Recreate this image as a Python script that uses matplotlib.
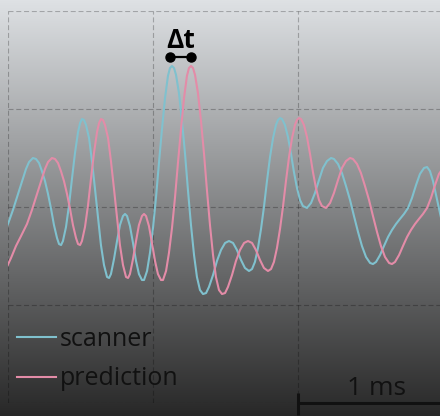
import numpy as np
import matplotlib
matplotlib.use('Agg')
import matplotlib.pyplot as plt

# scanner signal (time in ms, amplitude in grid units)
scanner_t = [-0.152, -0.110, -0.076, -0.041, 0.000, 0.034, 0.069, 0.097, 0.124, 0.145,
             0.172, 0.193, 0.214, 0.234, 0.255, 0.276, 0.297, 0.317, 0.338, 0.352,
             0.366, 0.379, 0.400, 0.421, 0.441, 0.462, 0.483, 0.497, 0.510, 0.524,
             0.538, 0.559, 0.579, 0.600, 0.621, 0.641, 0.662, 0.683, 0.697, 0.710,
             0.731, 0.752, 0.772, 0.793, 0.807, 0.821, 0.841, 0.862, 0.883, 0.903,
             0.924, 0.938, 0.959, 0.979, 1.000, 1.021, 1.041, 1.062, 1.083, 1.103,
             1.117, 1.131, 1.145, 1.159, 1.179, 1.200, 1.221, 1.241, 1.262, 1.283,
             1.303, 1.324, 1.345, 1.366, 1.386, 1.414, 1.441, 1.469, 1.497, 1.524,
             1.552, 1.579, 1.607, 1.634, 1.662, 1.683, 1.703, 1.724, 1.745, 1.766,
             1.786, 1.807, 1.828, 1.848, 1.862, 1.876, 1.890, 1.910, 1.931, 1.952,
             1.972, 1.993, 2.014, 2.034, 2.062, 2.090, 2.117, 2.145, 2.172, 2.200,
             2.228, 2.248, 2.276, 2.303, 2.331, 2.359, 2.386, 2.414, 2.441, 2.469,
             2.497, 2.517, 2.538, 2.566, 2.593, 2.621, 2.648, 2.676, 2.703, 2.731,
             2.759, 2.786, 2.814, 2.841, 2.869, 2.890, 2.910, 2.931, 2.952, 2.979,
             3.007]
scanner_v = [-0.653, -0.520, -0.398, -0.296, -0.173, -0.031, 0.133, 0.265, 0.388, 0.459,
             0.500, 0.490, 0.449, 0.367, 0.265, 0.133, -0.020, -0.184, -0.316, -0.378,
             -0.388, -0.347, -0.204, 0.020, 0.286, 0.551, 0.765, 0.857, 0.898, 0.888,
             0.837, 0.704, 0.469, 0.184, -0.112, -0.388, -0.592, -0.714, -0.724, -0.684,
             -0.531, -0.347, -0.184, -0.092, -0.071, -0.092, -0.194, -0.367, -0.551, -0.684,
             -0.745, -0.745, -0.653, -0.469, -0.214, 0.102, 0.449, 0.796, 1.112, 1.337,
             1.418, 1.439, 1.418, 1.347, 1.163, 0.878, 0.541, 0.173, -0.184, -0.490,
             -0.714, -0.847, -0.888, -0.878, -0.816, -0.694, -0.551, -0.439, -0.367, -0.347,
             -0.367, -0.439, -0.541, -0.622, -0.653, -0.633, -0.561, -0.418, -0.224, 0.010,
             0.265, 0.510, 0.704, 0.837, 0.888, 0.908, 0.898, 0.837, 0.714, 0.541,
             0.357, 0.194, 0.071, 0.010, -0.010, 0.041, 0.143, 0.276, 0.398, 0.469,
             0.500, 0.490, 0.439, 0.347, 0.214, 0.071, -0.092, -0.255, -0.398, -0.510,
             -0.571, -0.582, -0.561, -0.490, -0.398, -0.306, -0.235, -0.173, -0.122, -0.071,
             -0.010, 0.092, 0.224, 0.337, 0.398, 0.408, 0.367, 0.265, 0.122, -0.061,
             -0.245]
delay_ms = 0.131            # prediction lags the scanner by dt
dt_marker_t = [1.117, 1.262]
labels = ['scanner', 'prediction']
scale_label = '1 ms'

blue = '#80c1ce'
pink = '#e38ca8'
ink = '#111111'
fonts = ['Open Sans', 'DejaVu Sans']

W, H = 440, 416
fig = plt.figure(figsize=(W / 100, H / 100), dpi=100)

# gradient background
bg = fig.add_axes([0, 0, 1, 1], zorder=0)
top = np.array([222, 225, 228]) / 255
bottom = np.array([40, 40, 40]) / 255
k = np.linspace(0, 1, 256)[:, None]
grad = (top * (1 - k) + bottom * k)[:, None, :]
bg.imshow(grad, aspect='auto', extent=[0, 1, 0, 1])
bg.set_axis_off()

ax = fig.add_axes([8 / W, 13 / H, 432 / W, 392 / H], zorder=1)
ax.patch.set_alpha(0)
ax.set_xlim(0, 432 / 145)
ax.set_ylim(-2, 2)
ax.set_xticks([0, 1, 2])
ax.set_yticks([-2, -1, 0, 1, 2])
ax.tick_params(length=0, labelbottom=False, labelleft=False)
for s in ax.spines.values():
    s.set_visible(False)
ax.grid(True, color='black', alpha=0.25, lw=0.8, ls=(0, (4.5, 2.5)))

t = np.array(scanner_t)
v = np.array(scanner_v)
ax.plot(t, v, color=blue, lw=1.5, solid_joinstyle='round')
ax.plot(t + delay_ms, v, color=pink, lw=1.5, solid_joinstyle='round')

# dt marker
dot_y = 1.531
ax.plot(dt_marker_t, [dot_y, dot_y], color='black', lw=1.6,
        marker='o', ms=6.5, clip_on=False, zorder=5)
ax.text(sum(dt_marker_t) / 2, 1.622, '\u0394t', ha='center', va='baseline',
        fontsize=19, fontweight='bold', family=fonts, color='black')

# legend
for i, (lab, col) in enumerate(zip(labels, [blue, pink])):
    ly = [-1.327, -1.735][i]
    ax.plot([0.062, 0.331], [ly, ly], color=col, lw=1.5)
    ax.text(0.359, [-1.418, -1.816][i], lab, ha='left', va='baseline',
            fontsize=18, family=fonts, color=ink)

# scale bar
ax.plot([2, 3.2], [-2, -2], color=ink, lw=2.2, clip_on=False, solid_capstyle='butt')
ax.plot([2, 2], [-1.898, -2.122], color=ink, lw=2.2, clip_on=False, solid_capstyle='butt')
ax.text(2.54, -1.918, scale_label, ha='center', va='baseline',
        fontsize=19, family=fonts, color=ink)

fig.savefig('out.png', dpi=100)
